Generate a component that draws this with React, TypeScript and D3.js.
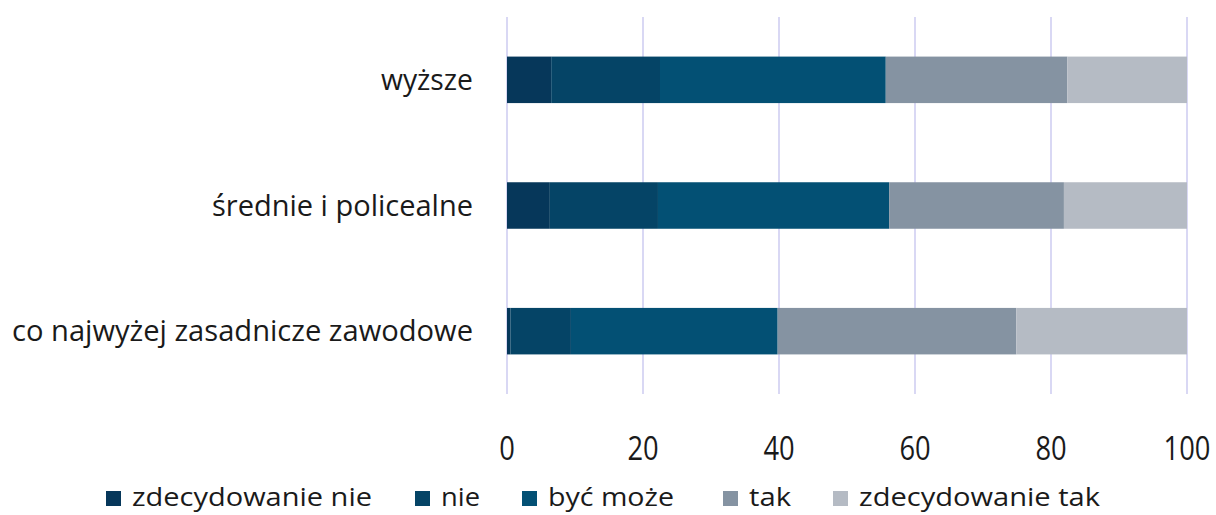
import React, { useEffect, useRef } from "react";
import * as d3 from "d3";

const categories = ["wyższe", "średnie i policealne", "co najwyżej zasadnicze zawodowe"];
const seriesNames = ["zdecydowanie nie", "nie", "być może", "tak", "zdecydowanie tak"];
const zdecydowanieNie = [6.5, 6.3, 0.5];
const nie = [16.0, 15.9, 8.9];
const bycMoze = [33.2, 34.0, 30.4];
const tak = [26.7, 25.7, 35.1];
const zdecydowanieTak = [17.6, 18.1, 25.1];
const xTicks = [0, 20, 40, 60, 80, 100];
const colors = ["#06375a", "#054466", "#035074", "#8593a2", "#b5bbc4"];

const W = 1216, H = 515;
const margin = { left: 507, right: 29, top: 17, bottom: 121 };
const FONT = "'Open Sans', sans-serif";
const catWidths = [92, 261, 461];
const legendX = [106, 415, 522, 723, 833];
const legendTextWidths = [240, 39, 126, 42, 241];

export default function App() {
  const ref = useRef<SVGSVGElement>(null);
  useEffect(() => {
    const svg = d3.select(ref.current);
    svg.selectAll("*").remove();
    const x = d3.scaleLinear().domain([0, 100]).range([margin.left, W - margin.right]);
    const y = d3.scaleBand().domain(categories).range([margin.top, H - margin.bottom]).paddingInner(0.63).paddingOuter(0.315);

    const rows = categories.map((c, i) => ({
      cat: c,
      "zdecydowanie nie": zdecydowanieNie[i],
      nie: nie[i],
      "być może": bycMoze[i],
      tak: tak[i],
      "zdecydowanie tak": zdecydowanieTak[i],
    }));
    const stack = d3.stack<any>().keys(seriesNames)(rows);

    svg.append("g").selectAll("line").data(xTicks).join("line")
      .attr("x1", d => x(d)).attr("x2", d => x(d))
      .attr("y1", margin.top).attr("y2", H - margin.bottom)
      .attr("stroke", "#d9d8f4").attr("stroke-width", 2);

    svg.append("g").selectAll("g").data(stack).join("g")
      .attr("fill", (_d, i) => colors[i])
      .selectAll("rect").data(d => d).join("rect")
      .attr("x", d => x(d[0]))
      .attr("width", d => x(d[1]) - x(d[0]))
      .attr("y", d => y(d.data.cat)!)
      .attr("height", y.bandwidth());

    svg.append("g").selectAll("text").data(categories).join("text")
      .attr("x", 473).attr("y", d => y(d)! + y.bandwidth() / 2 + 10)
      .attr("text-anchor", "end")
      .attr("font-family", FONT).attr("font-size", 30).attr("fill", "#1a1a1a")
      .attr("textLength", (_d, i) => catWidths[i]).attr("lengthAdjust", "spacingAndGlyphs")
      .text(d => d);

    svg.append("g").selectAll("text").data(xTicks).join("text")
      .attr("x", d => x(d)).attr("y", 459.5)
      .attr("text-anchor", "middle")
      .attr("font-family", FONT).attr("font-size", 32).attr("fill", "#1a1a1a")
      .attr("textLength", d => String(d).length * 15.6).attr("lengthAdjust", "spacingAndGlyphs")
      .text(d => String(d));

    const lg = svg.append("g").selectAll("g").data(seriesNames).join("g")
      .attr("transform", (_d, i) => `translate(${legendX[i]},0)`);
    lg.append("rect").attr("x", 0).attr("y", 491).attr("width", 15).attr("height", 15)
      .attr("fill", (_d, i) => colors[i]);
    lg.append("text").attr("x", 26).attr("y", 506)
      .attr("font-family", FONT).attr("font-size", 25).attr("fill", "#1a1a1a")
      .attr("textLength", (_d, i) => legendTextWidths[i]).attr("lengthAdjust", "spacingAndGlyphs")
      .text(d => d);
  }, []);
  return <svg ref={ref} width={W} height={H} style={{ display: "block", position: "absolute", left: 0, top: 0 }} />;
}
